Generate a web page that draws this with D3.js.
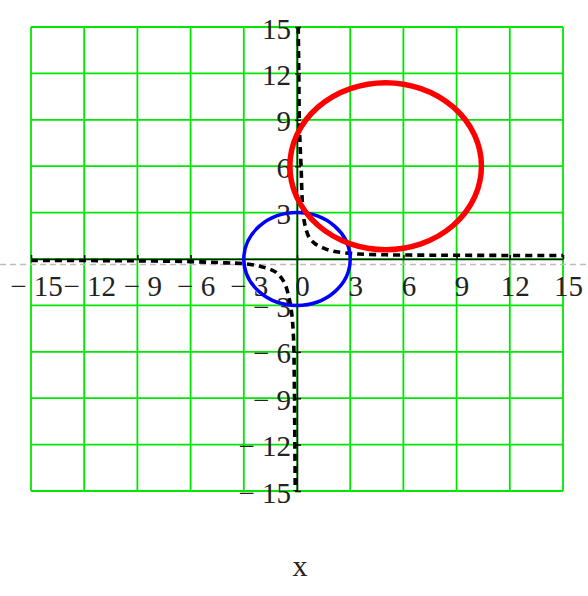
<!DOCTYPE html>
<html>
<head>
<meta charset="utf-8">
<script src="https://cdn.jsdelivr.net/npm/d3@7"></script>
<style>
  html, body { margin: 0; padding: 0; background: #fff; }
  svg { display: block; }
  text { font-family: "Liberation Serif", "Times New Roman", serif; fill: #222; }
</style>
</head>
<body>
<svg id="chart" width="588" height="596"></svg>
<script>
// Axis range and tick values (both axes share the same range)
const domain = [-15, 15];
const tickValues = [-15, -12, -9, -6, -3, 0, 3, 6, 9, 12, 15];
const yTickValues = [-15, -12, -9, -6, -3, 3, 6, 9, 12, 15];

// Circle: centre and radius
const circleCenter = [0, 0];
const circleRadius = 3;

// Second circle: centre and radius
const ringCenter = [5, 6];
const ringRadius = 5.4;

// Hyperbola-like trace, upper-right branch
const branchAX = [0.07, 0.1, 0.13, 0.17, 0.23, 0.32, 0.45, 0.68, 1.0, 1.5, 2.0, 2.65, 3.5, 5, 7, 9, 12, 15];
const branchAY = [15, 12, 9, 7.5, 6, 3.3, 2.2, 1.4, 1.0, 0.7, 0.52, 0.4, 0.32, 0.27, 0.25, 0.24, 0.23, 0.23];

// Hyperbola-like trace, lower-left branch
const branchBX = [-15, -12, -9, -6, -4, -3, -2, -1.2, -0.73, -0.45, -0.3, -0.2, -0.15, -0.12, -0.1];
const branchBY = [-0.1, -0.1, -0.12, -0.17, -0.25, -0.3, -0.5, -0.85, -1.5, -2.5, -3.5, -5, -8, -12, -15];

// Horizontal marker value
const markerY = -0.35;

const svg = d3.select("#chart");
const W = 588;

const x = d3.scaleLinear().domain(domain).range([31, 563]);
const y = d3.scaleLinear().domain(domain).range([491, 27]);

// Grid
const grid = svg.append("g").attr("stroke", "#00e600").attr("stroke-width", 1.8);
grid.selectAll("line.v").data(tickValues).join("line")
  .attr("class", "v")
  .attr("x1", d => x(d)).attr("x2", d => x(d))
  .attr("y1", y(domain[0])).attr("y2", y(domain[1]));
grid.selectAll("line.h").data(tickValues).join("line")
  .attr("class", "h")
  .attr("y1", d => y(d)).attr("y2", d => y(d))
  .attr("x1", x(domain[0])).attr("x2", x(domain[1]));

// Marker line across the whole width
svg.append("line")
  .attr("x1", 0).attr("x2", W)
  .attr("y1", y(markerY)).attr("y2", y(markerY))
  .attr("stroke", "#bdbdbd").attr("stroke-width", 1.5)
  .attr("stroke-dasharray", "6,4");

const fmt = d => d < 0 ? "\u2212 " + Math.abs(d) : String(d);

// X axis through the origin
const gx = svg.append("g")
  .attr("transform", `translate(0,${y(0)})`)
  .call(d3.axisBottom(x).tickValues(tickValues).tickFormat(fmt).tickSize(-4).tickSizeOuter(0));
gx.select(".domain").attr("stroke", "#111").attr("stroke-width", 1.6);
gx.selectAll(".tick line").attr("stroke", "#111").attr("stroke-width", 1.6);
gx.selectAll(".tick text")
  .attr("y", 37).attr("dy", null).attr("x", 5)
  .attr("font-size", 29).attr("fill", "#222")
  .attr("font-family", "Liberation Serif, serif");

// Y axis through the origin
const gy = svg.append("g")
  .attr("transform", `translate(${x(0)},0)`)
  .call(d3.axisLeft(y).tickValues(yTickValues).tickFormat(fmt).tickSize(-4).tickSizeOuter(0));
gy.select(".domain").attr("stroke", "#111").attr("stroke-width", 1.6);
gy.selectAll(".tick line").attr("stroke", "#111").attr("stroke-width", 1.6).attr("x1", -2);
gy.selectAll(".tick text")
  .attr("x", -6).attr("dy", null).attr("y", 11)
  .attr("text-anchor", "end")
  .attr("font-size", 29).attr("fill", "#222")
  .attr("font-family", "Liberation Serif, serif");

// Dashed trace
const line = d3.line().x(d => x(d[0])).y(d => y(d[1])).curve(d3.curveCatmullRom);
[[branchAX, branchAY], [branchBX, branchBY]].forEach(([bx, by]) => {
  svg.append("path")
    .datum(bx.map((v, i) => [v, by[i]]))
    .attr("d", line)
    .attr("fill", "none").attr("stroke", "#000")
    .attr("stroke-width", 3.6).attr("stroke-dasharray", "7,5");
});

// Blue circle
svg.append("ellipse")
  .attr("cx", x(circleCenter[0])).attr("cy", y(circleCenter[1]))
  .attr("rx", x(circleRadius) - x(0)).attr("ry", y(0) - y(circleRadius))
  .attr("fill", "none").attr("stroke", "#0000ff").attr("stroke-width", 3.5);

// Red circle
svg.append("ellipse")
  .attr("cx", x(ringCenter[0])).attr("cy", y(ringCenter[1]))
  .attr("rx", x(ringRadius) - x(0)).attr("ry", y(0) - y(ringRadius))
  .attr("fill", "none").attr("stroke", "#ff0000").attr("stroke-width", 5.5);

// Axis title
svg.append("text")
  .attr("x", 300).attr("y", 576)
  .attr("text-anchor", "middle")
  .attr("font-size", 30)
  .text("x");
</script>
</body>
</html>
